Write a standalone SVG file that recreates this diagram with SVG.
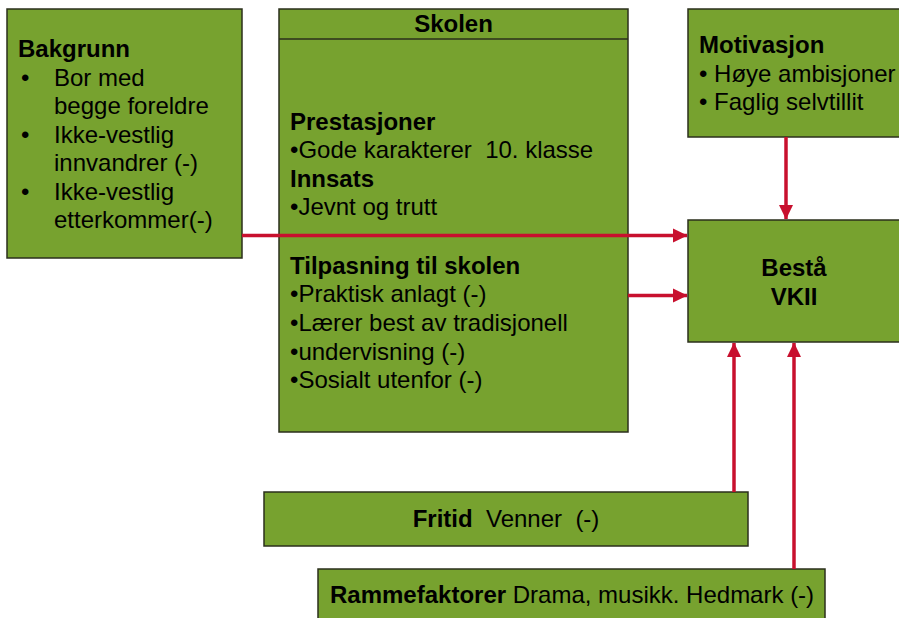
<svg xmlns="http://www.w3.org/2000/svg" width="899" height="618" viewBox="0 0 899 618">
<defs>
<style>
.box{fill:#77A22F;stroke:#2b2f1c;stroke-width:1.5}
.t{font-family:"Liberation Sans",Arial,sans-serif;font-size:24px;fill:#000;white-space:pre}
.b{font-weight:bold}
.c{stroke:#C8102E;stroke-width:3.5;fill:none}
</style>
<marker id="ah" markerUnits="userSpaceOnUse" markerWidth="15" markerHeight="15" viewBox="0 0 15 15" refX="14" refY="7.5" orient="auto">
<path d="M0,0.5 L14.5,7.5 L0,14.5 Z" fill="#C8102E"/>
</marker>
</defs>
<rect width="899" height="618" fill="#fff"/>
<g id="bakgrunn">
<rect class="box" x="7" y="9" width="235" height="249"/>
<text class="t b" x="18" y="57">Bakgrunn</text>
<text class="t" x="21" y="85.5">•</text><text class="t" x="54" y="85.5">Bor med</text>
<text class="t" x="54" y="114">begge foreldre</text>
<text class="t" x="21" y="142.5">•</text><text class="t" x="54" y="142.5">Ikke-vestlig</text>
<text class="t" x="54" y="171">innvandrer (-)</text>
<text class="t" x="21" y="199.5">•</text><text class="t" x="54" y="199.5">Ikke-vestlig</text>
<text class="t" x="54" y="228">etterkommer(-)</text>
</g>
<g id="skolen">
<rect class="box" x="279" y="9" width="349" height="423"/>
<line x1="279" y1="39" x2="628" y2="39" stroke="#2b2f1c" stroke-width="1.5"/>
<text class="t b" x="453.5" y="32" text-anchor="middle">Skolen</text>
<text class="t b" x="290" y="129.5">Prestasjoner</text>
<text class="t" x="290" y="157.5" xml:space="preserve">•Gode karakterer  10. klasse</text>
<text class="t b" x="290" y="186.5">Innsats</text>
<text class="t" x="290" y="215">•Jevnt og trutt</text>
<text class="t b" x="290" y="273.5">Tilpasning til skolen</text>
<text class="t" x="290" y="302">•Praktisk anlagt (-)</text>
<text class="t" x="290" y="331">•Lærer best av tradisjonell</text>
<text class="t" x="290" y="359.5">•undervisning (-)</text>
<text class="t" x="290" y="388">•Sosialt utenfor (-)</text>
</g>
<g id="motivasjon">
<rect class="box" x="688" y="9" width="214" height="128"/>
<text class="t b" x="699" y="53">Motivasjon</text>
<text class="t" x="699" y="82">• Høye ambisjoner</text>
<text class="t" x="699" y="110">• Faglig selvtillit</text>
</g>
<g id="besta">
<rect class="box" x="688" y="220" width="214" height="122"/>
<text class="t b" x="794" y="276" text-anchor="middle">Bestå</text>
<text class="t b" x="794" y="305" text-anchor="middle">VKII</text>
</g>
<g id="fritid">
<rect class="box" x="264" y="492" width="484" height="54"/>
<text class="t" x="506" y="527" text-anchor="middle" xml:space="preserve"><tspan class="b">Fritid</tspan>  Venner  (-)</text>
</g>
<g id="rammefaktorer">
<rect class="box" x="318" y="569" width="507" height="52"/>
<text class="t" x="330" y="603"><tspan class="b">Rammefaktorer</tspan> Drama, musikk. Hedmark (-)</text>
</g>
<g id="connectors">
<line class="c" x1="242" y1="235.5" x2="687" y2="235.5" marker-end="url(#ah)"/>
<line class="c" x1="628" y1="295.5" x2="687" y2="295.5" marker-end="url(#ah)"/>
<line class="c" x1="786" y1="137" x2="786" y2="219" marker-end="url(#ah)"/>
<line class="c" x1="734" y1="492" x2="734" y2="343" marker-end="url(#ah)"/>
<line class="c" x1="794" y1="569" x2="794" y2="343" marker-end="url(#ah)"/>
</g>
</svg>
